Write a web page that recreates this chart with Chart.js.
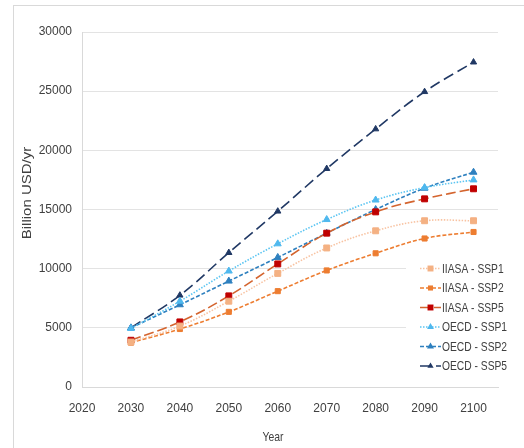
<!DOCTYPE html>
<html>
<head>
<meta charset="utf-8">
<script src="https://cdn.jsdelivr.net/npm/chart.js@4/dist/chart.umd.min.js"></script>
<style>
  html, body { margin: 0; padding: 0; background: #ffffff; overflow: hidden; }
  #wrap { position: relative; width: 524px; height: 448px; }
  #frame { position: absolute; left: 13px; top: 5px; width: 600px; height: 600px;
           border: 1px solid #d9d9d9; box-sizing: border-box; pointer-events: none; }
  canvas { position: absolute; left: 0; top: 0; }
</style>
</head>
<body>
<div id="wrap">
  <div id="frame"></div>
  <canvas id="chart" width="524" height="448"></canvas>
</div>
<script>
// Projected values, billion USD per year
const years = [2030, 2040, 2050, 2060, 2070, 2080, 2090, 2100];
const iiasaSsp1 = [3800, 5150, 7250, 9600, 11750, 13200, 14050, 14050];
const iiasaSsp2 = [3750, 4900, 6350, 8100, 9850, 11300, 12550, 13100];
const iiasaSsp5 = [3950, 5500, 7700, 10400, 13000, 14800, 15900, 16750];
const oecdSsp1 = [4950, 7250, 9800, 12100, 14150, 15800, 16850, 17500];
const oecdSsp2 = [5000, 6950, 8950, 10950, 13000, 15000, 16800, 18150];
const oecdSsp5 = [5000, 7750, 11350, 14850, 18450, 21800, 24950, 27450];
const seriesNames = ['IIASA - SSP1', 'IIASA - SSP2', 'IIASA - SSP5', 'OECD - SSP1', 'OECD - SSP2', 'OECD - SSP5'];
const xTitle = 'Year';
const yTitle = 'Billion USD/yr';

const fontFamily = "'Liberation Sans', Arial, sans-serif";
const textColor = '#404040';

function points(values) {
  return years.map((yr, i) => ({ x: yr, y: values[i] }));
}

const styles = [
  { line: '#f8c3a2', point: '#f4b183', dash: [1.5, 1.5], shape: 'rect', r: 4.2 },
  { line: '#ed7d31', point: '#ed7d31', dash: [4, 2], shape: 'rect', r: 3.6 },
  { line: '#d4642e', point: '#c00000', dash: [10, 4], shape: 'rect', r: 4.2 },
  { line: '#5bc5f2', point: '#4fb8ee', dash: [1.5, 1.5], shape: 'triangle', r: 4 },
  { line: '#2e80bf', point: '#2e80bf', dash: [4, 2], shape: 'triangle', r: 4 },
  { line: '#203864', point: '#203864', dash: [11, 5], shape: 'triangle', r: 3.6 }
];
const seriesValues = [iiasaSsp1, iiasaSsp2, iiasaSsp5, oecdSsp1, oecdSsp2, oecdSsp5];

const datasets = seriesValues.map((vals, i) => ({
  label: seriesNames[i],
  data: points(vals),
  borderColor: styles[i].line,
  borderWidth: 1.6,
  borderDash: styles[i].dash,
  pointStyle: styles[i].shape,
  pointRadius: styles[i].r,
  pointBackgroundColor: styles[i].point,
  pointBorderColor: styles[i].point,
  pointBorderWidth: 1,
  tension: 0.4,
  fill: false
}));

function drawMarker(ctx, shape, x, y, r) {
  ctx.beginPath();
  if (shape === 'rect') {
    const s = Math.SQRT1_2 * r;
    ctx.rect(x - s, y - s, 2 * s, 2 * s);
  } else {
    const h = r * 1.5;
    ctx.moveTo(x, y - h * 2 / 3);
    ctx.lineTo(x + r * 0.87, y + h / 3);
    ctx.lineTo(x - r * 0.87, y + h / 3);
    ctx.closePath();
  }
  ctx.fill();
}

// Text squeezed horizontally, to get a condensed face from the regular one
function narrowText(ctx, text, x, y, squeeze) {
  ctx.save();
  ctx.translate(x, y);
  ctx.scale(squeeze, 1);
  ctx.fillText(text, 0, 0);
  ctx.restore();
}

// Axis titles and an inset legend box drawn on top of the plot
const overlay = {
  id: 'overlay',
  afterDraw(chart) {
    const ctx = chart.ctx;
    ctx.save();
    ctx.fillStyle = textColor;
    ctx.textAlign = 'center';
    ctx.textBaseline = 'middle';

    ctx.font = "13px " + fontFamily;
    narrowText(ctx, xTitle, 273, 437, 0.8);

    ctx.save();
    ctx.translate(27, 193);
    ctx.rotate(-Math.PI / 2);
    ctx.font = "15px " + fontFamily;
    ctx.scale(1, 0.85);
    ctx.fillText(yTitle, 0, 0);
    ctx.restore();

    // legend
    const lx = 406, ly = 256, lw = 118, lh = 122;
    ctx.fillStyle = '#ffffff';
    ctx.fillRect(lx, ly, lw, lh);
    ctx.font = "13px " + fontFamily;
    ctx.textAlign = 'left';
    chart.data.datasets.forEach((ds, i) => {
      const y = 268.5 + i * 19.5;
      ctx.strokeStyle = ds.borderColor;
      ctx.lineWidth = ds.borderWidth;
      ctx.setLineDash(ds.borderDash);
      ctx.beginPath();
      ctx.moveTo(420, y);
      ctx.lineTo(441, y);
      ctx.stroke();
      ctx.setLineDash([]);
      ctx.fillStyle = ds.pointBackgroundColor;
      drawMarker(ctx, ds.pointStyle, 430.5, y, ds.pointRadius);
      ctx.fillStyle = textColor;
      narrowText(ctx, ds.label, 442, y + 0.5, 0.79);
    });
    ctx.restore();
  }
};

new Chart(document.getElementById('chart'), {
  type: 'line',
  data: { datasets },
  options: {
    responsive: false,
    animation: false,
    layout: { padding: { left: 0, top: 32, right: 26, bottom: 0 } },
    plugins: { legend: { display: false }, tooltip: { enabled: false } },
    scales: {
      x: {
        type: 'linear',
        min: 2020,
        max: 2105,
        afterFit(scale) { scale.height = 61; },
        ticks: {
          stepSize: 10,
          includeBounds: false,
          color: textColor,
          font: { family: fontFamily, size: 12 },
          padding: 14,
          maxRotation: 0,
          callback: v => String(v)
        },
        grid: { display: false, drawTicks: false },
        border: { display: true, color: '#d9d9d9', width: 1 }
      },
      y: {
        min: 0,
        max: 30000,
        afterFit(scale) { scale.width = 82; },
        ticks: {
          stepSize: 5000,
          color: textColor,
          font: { family: fontFamily, size: 12 },
          padding: 10,
          callback: v => String(v)
        },
        grid: { color: '#e3e3e3', lineWidth: 1, drawTicks: false },
        border: { display: true, color: '#d9d9d9', width: 1 }
      }
    }
  },
  plugins: [overlay]
});
</script>
</body>
</html>
